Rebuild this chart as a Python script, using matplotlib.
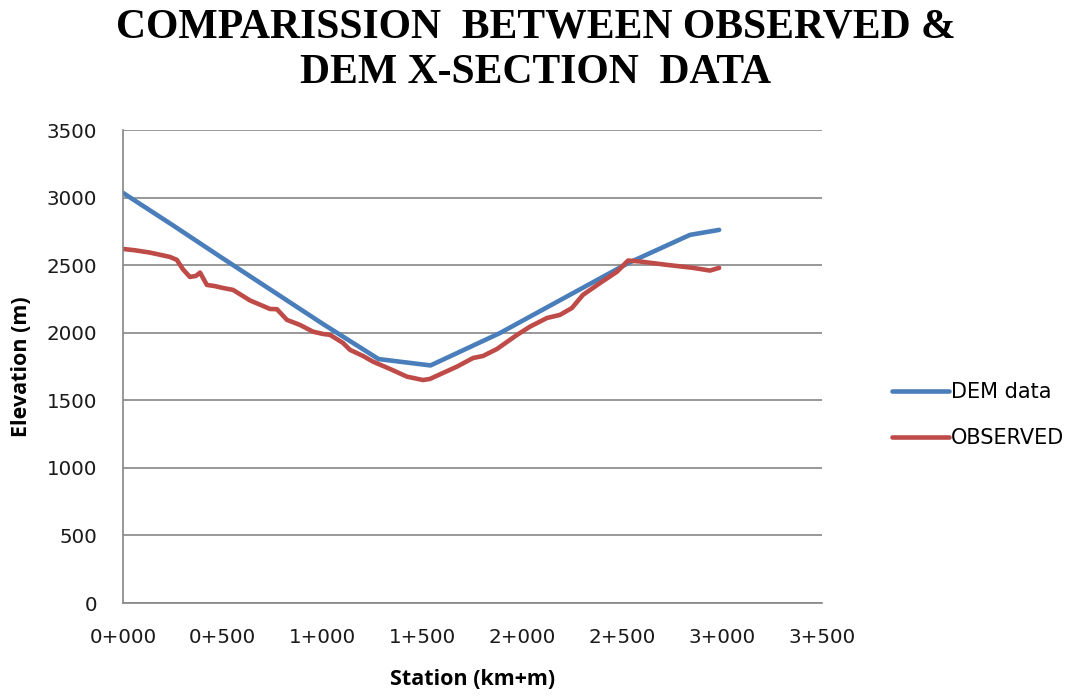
import matplotlib
matplotlib.use("Agg")
import matplotlib.pyplot as plt
from matplotlib.ticker import FuncFormatter

# DEM cross-section (station in m, elevation in m)
dem_x = [0, 250, 500, 750, 1000, 1280, 1540, 1888, 2200, 2529, 2839, 2985]
dem_y = [3035, 2795, 2550, 2308, 2066, 1805, 1758, 1998, 2250, 2515, 2724, 2761]

# observed cross-section
obs_x = [0, 60, 135, 235, 270, 300, 335, 365, 386, 420, 460, 501, 551, 636, 736, 771,
         821, 886, 951, 1001, 1037, 1102, 1137, 1202, 1252, 1337, 1422, 1502, 1537,
         1602, 1672, 1753, 1803, 1873, 1973, 2038, 2123, 2188, 2248, 2303, 2389, 2474,
         2529, 2589, 2724, 2854, 2939, 2985]
obs_y = [2620, 2610, 2593, 2561, 2539, 2470, 2413, 2420, 2445, 2354, 2345, 2331, 2317,
         2239, 2176, 2174, 2095, 2058, 2008, 1991, 1984, 1924, 1873, 1828, 1786, 1732,
         1675, 1650, 1658, 1702, 1749, 1813, 1828, 1880, 1984, 2045, 2109, 2132, 2183,
         2280, 2368, 2452, 2534, 2527, 2502, 2480, 2460, 2480]

x_ticks = [0, 500, 1000, 1500, 2000, 2500, 3000, 3500]
y_ticks = [0, 500, 1000, 1500, 2000, 2500, 3000, 3500]

blue = "#4A7EBB"
red = "#BE4B48"
grid_c = "#868686"

fig = plt.figure(figsize=(10.72, 6.96), dpi=100)
ax = fig.add_axes([0.1147, 0.1336, 0.6521, 0.6796])

ax.plot(dem_x, dem_y, color=blue, lw=3.3, label="DEM data", solid_capstyle="round")
ax.plot(obs_x, obs_y, color=red, lw=3.3, label="OBSERVED", solid_capstyle="round")

ax.set_xlim(0, 3500)
ax.set_ylim(0, 3500)
ax.set_xticks(x_ticks)
ax.set_yticks(y_ticks)
ax.xaxis.set_major_formatter(FuncFormatter(lambda v, p: "%d+%03d" % (int(v) // 1000, int(v) % 1000)))
ax.tick_params(length=0, labelsize=14.3, colors="#1a1a1a")
ax.tick_params(axis="x", pad=18)
ax.tick_params(axis="y", pad=18.5)
for lab in ax.get_xticklabels() + ax.get_yticklabels():
    lab.set_fontfamily("DejaVu Sans")

ax.grid(axis="y", color=grid_c, lw=1.2)
ax.set_axisbelow(True)
for s in ["top", "right"]:
    ax.spines[s].set_visible(False)
for s in ["left", "bottom"]:
    ax.spines[s].set_color(grid_c)
    ax.spines[s].set_linewidth(1.2)

ax.set_xlabel("Station (km+m)", fontsize=15.5, fontweight="bold", family="Open Sans")
ax.set_ylabel("Elevation (m)", fontsize=15.5, fontweight="bold", family="Open Sans")
ax.xaxis.set_label_coords(0.5, -(679 - 603) / 473, transform=ax.transAxes)
ax.yaxis.set_label_coords(-(123 - 22) / 699, 0.5, transform=ax.transAxes)
ax.xaxis.label.set_va("center")
ax.yaxis.label.set_va("center")

fig.text(0.5, 1 - 28 / 696, "COMPARISSION  BETWEEN OBSERVED &",
         ha="center", va="center", fontsize=30, fontweight="bold", family="Liberation Serif")
fig.text(0.5, 1 - 73 / 696, "DEM X-SECTION  DATA",
         ha="center", va="center", fontsize=30, fontweight="bold", family="Liberation Serif")

fig.legend(loc="center left", bbox_to_anchor=(0.822, 1 - 415 / 696), frameon=False,
           prop={"family": "DejaVu Sans", "size": 15}, handlelength=2.75,
           handletextpad=0.1, labelspacing=1.25, borderpad=0)

fig.savefig("out.png", dpi=100)
